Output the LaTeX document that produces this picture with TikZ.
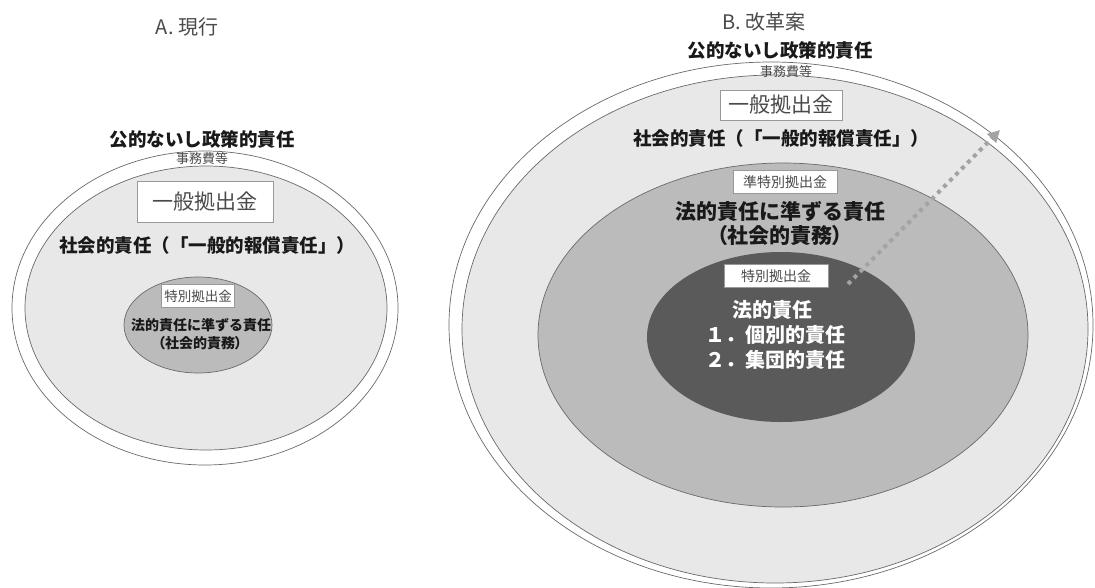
\documentclass[tikz,border=0pt]{standalone}
\usepackage{fontspec}
\setmainfont{Noto Sans CJK JP}
\newfontfamily\jpp[RawFeature=+palt]{Noto Sans CJK JP}
\usetikzlibrary{shapes.geometric,arrows.meta}
\definecolor{ringline}{HTML}{6A6A6A}
\definecolor{lightfill}{HTML}{E8E8E8}
\definecolor{midfill}{HTML}{BBBBBB}
\definecolor{darkfill}{HTML}{5A5A5A}
\definecolor{arrowgray}{HTML}{A3A3A3}
\definecolor{labelgray}{HTML}{4A4A4A}
\tikzset{
  ring/.style={ellipse, draw=ringline, line width=0.7pt, inner sep=0pt},
  lbox/.style={draw=gray!80, fill=white, line width=0.6pt, inner sep=0pt, text=labelgray},
  head/.style={font=\bfseries\fontsize{18.5}{20}\selectfont, text=black!90, inner sep=0pt},
  title/.style={font=\fontsize{20}{22}\selectfont, text=labelgray, inner sep=0pt},
  small/.style={font=\fontsize{13}{14}\selectfont, text=labelgray, inner sep=0pt},
  bodytext/.style={font=\bfseries, text=black!90, inner sep=0pt},
}
\begin{document}
\begin{tikzpicture}[x=1pt,y=-1pt]
\useasboundingbox[fill=white] (0,0) rectangle (1095,587);
% ---------- A ----------
\node[ring, fill=white, minimum width=386pt, minimum height=314pt] (aout) at (205,308) {};
\node[ring, fill=lightfill, minimum width=362pt, minimum height=284pt] (alight) at (206,308) {};
\node[ring, fill=midfill, minimum width=148pt, minimum height=96pt] (amid) at (198,325) {};
\node[title] (atitle) at (187,27) {A. 現行};
\node[head] (apub) at (202,139) {公的ないし政策的責任};
\node[small] (aoffice) at (202,159) {事務費等};
\node[lbox, minimum width=136pt, minimum height=41pt, font=\fontsize{21}{22}\selectfont] (agen) at (205,202) {一般拠出金};
\node[head] (asoc) at (207,245) {社会的責任（「一般的報償責任」）};
\node[lbox, minimum width=73pt, minimum height=23pt, font=\fontsize{13.5}{14}\selectfont] (aspec) at (198,296) {特別拠出金};
\node[bodytext, font=\bfseries\fontsize{14}{15}\selectfont] (aquasi) at (201,325) {法的責任に準ずる責任};
\node[bodytext, font=\jpp\bfseries\fontsize{14}{15}\selectfont] (aduty) at (200,343) {（社会的責務）};
% ---------- B ----------
\node[ring, fill=white, minimum width=644pt, minimum height=526pt] (bout) at (771,325) {};
\node[ring, fill=lightfill, minimum width=626pt, minimum height=508pt] (blight) at (775,329) {};
\node[ring, fill=midfill, minimum width=490pt, minimum height=344pt] (bmid) at (783,335) {};
\node[ellipse, fill=darkfill, inner sep=0pt, minimum width=268pt, minimum height=170pt] (bdark) at (781,337) {};
\node[title] (btitle) at (764,22) {B. 改革案};
\node[head] (bpub) at (780,50) {公的ないし政策的責任};
\node[small] (boffice) at (786,72) {事務費等};
\node[lbox, minimum width=122pt, minimum height=30pt, font=\fontsize{21}{22}\selectfont] (bgen) at (781,105) {一般拠出金};
\node[head] (bsoc) at (781,138) {社会的責任（「一般的報償責任」）};
\node[lbox, minimum width=104pt, minimum height=23pt, font=\fontsize{14}{15}\selectfont] (bquasispec) at (785,182) {準特別拠出金};
\node[bodytext, font=\bfseries\fontsize{21}{22}\selectfont] (bquasi) at (780,212) {法的責任に準ずる責任};
\node[bodytext, font=\jpp\bfseries\fontsize{21}{22}\selectfont] (bduty) at (780,236) {（社会的責務）};
\node[lbox, minimum width=104pt, minimum height=23pt, font=\fontsize{14}{15}\selectfont] (bspec) at (776,276) {特別拠出金};
\node[bodytext, text=white, font=\bfseries\fontsize{20}{21}\selectfont] (blegal) at (772,310) {法的責任};
\node[bodytext, text=white, font=\bfseries\fontsize{20}{21}\selectfont] (bind) at (775,335) {１．個別的責任};
\node[bodytext, text=white, font=\bfseries\fontsize{20}{21}\selectfont] (bcol) at (775,360) {２．集団的責任};
% arrow
\coordinate (arrstart) at (848,284);
\coordinate (arrend) at (1000,130);
\draw[arrowgray, line width=4pt, dash pattern=on 4pt off 4.5pt, -{Triangle[length=12pt,width=12pt]}] (arrstart) -- (arrend);
\end{tikzpicture}
\end{document}
